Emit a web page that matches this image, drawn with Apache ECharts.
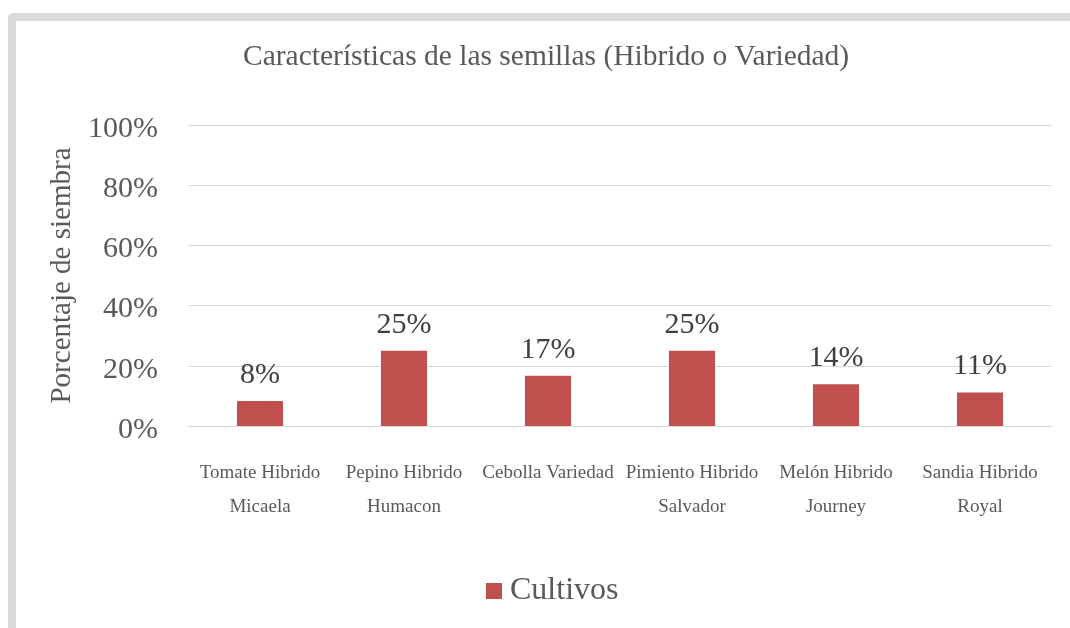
<!DOCTYPE html>
<html>
<head>
<meta charset="utf-8">
<script src="https://cdn.jsdelivr.net/npm/echarts@6/dist/echarts.min.js"></script>
<style>
  html, body { margin: 0; padding: 0; background: #fff; }
  #frame {
    position: absolute; left: 8px; top: 13px; width: 1100px; height: 700px;
    border-left: 8px solid #d9d9d9; border-top: 8px solid #d9d9d9;
    border-top-left-radius: 5px;
  }
  #main { position: absolute; left: 0; top: 0; width: 1070px; height: 628px; }
</style>
</head>
<body>
<div id="frame"></div>
<div id="main"></div>
<script>
// categorias y valores
const categories = [
  'Tomate Hibrido\nMicaela',
  'Pepino Hibrido\nHumacon',
  'Cebolla Variedad',
  'Pimiento Hibrido\nSalvador',
  'Melón Hibrido\nJourney',
  'Sandia Hibrido\nRoyal'
];
const cultivos = [0.083, 0.25, 0.167, 0.25, 0.139, 0.111];
const seriesName = 'Cultivos';
const titleText = 'Características de las semillas (Hibrido o Variedad)';
const yName = 'Porcentaje de siembra';

const font = '"Liberation Serif", "Times New Roman", serif';
const textColor = '#595959';

let myChart = echarts.init(document.getElementById('main'));
myChart.setOption({
  backgroundColor: 'transparent',
  title: {
    text: titleText,
    left: 238,
    top: 37,
    textStyle: { fontFamily: font, fontSize: 29.5, fontWeight: 'normal', color: textColor }
  },
  legend: {
    bottom: 16,
    left: 481,
    itemWidth: 16,
    itemHeight: 16,
    icon: 'rect',
    textStyle: { fontFamily: font, fontSize: 32, color: textColor, padding: [0, 0, 0, 3] },
    data: [seriesName]
  },
  grid: { left: 188, right: 18, top: 125, bottom: 202 },
  xAxis: {
    type: 'category',
    data: categories,
    axisTick: { show: false },
    axisLine: { lineStyle: { color: '#d9d9d9', width: 1 } },
    axisLabel: {
      interval: 0,
      margin: 30,
      fontFamily: font,
      fontSize: 19,
      lineHeight: 34,
      color: textColor
    }
  },
  yAxis: {
    type: 'value',
    min: 0,
    max: 1,
    interval: 0.2,
    name: yName,
    nameLocation: 'middle',
    nameGap: 104,
    nameTextStyle: { fontFamily: font, fontSize: 29, color: textColor },
    axisLine: { show: false },
    axisTick: { show: false },
    splitLine: { lineStyle: { color: '#d9d9d9', width: 1 } },
    axisLabel: {
      margin: 30,
      formatter: v => '{p|' + Math.round(v * 100) + '%}',
      rich: {
        p: { fontFamily: font, fontSize: 30, color: textColor, padding: [8, 0, 0, 0] }
      }
    }
  },
  series: [
    {
      name: seriesName,
      type: 'bar',
      data: cultivos,
      barWidth: 46,
      itemStyle: { color: '#c0504d' },
      label: {
        show: true,
        position: 'top',
        distance: 11,
        fontFamily: font,
        fontSize: 30,
        color: '#404040',
        formatter: p => Math.round(p.value * 100) + '%'
      }
    }
  ]
});
window.onresize = function () {
  myChart.resize();
};
</script>
</body>
</html>
